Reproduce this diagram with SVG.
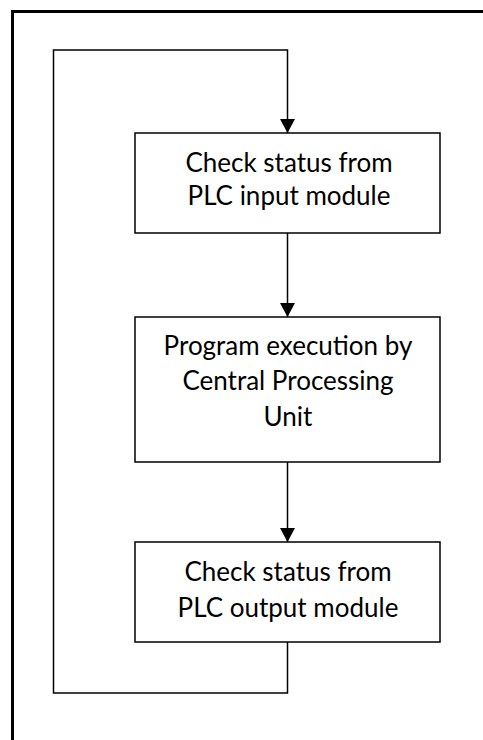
<svg xmlns="http://www.w3.org/2000/svg" width="483" height="740" viewBox="0 0 483 740">
<style>
.box{fill:#fff;stroke:#000;stroke-width:1.5}
.lbl{font-family:Lato,"Liberation Sans",sans-serif;font-size:26px;fill:#000;text-anchor:middle}
.conn{fill:none;stroke:#000;stroke-width:1.5}
</style>
<defs>
<marker id="arr" markerWidth="16" markerHeight="16" viewBox="0 0 16 16" refX="14" refY="8" orient="auto" markerUnits="userSpaceOnUse">
<path d="M0,0.5 L14,8 L0,15.5 Z" fill="#000"/>
</marker>
</defs>
<rect x="12.5" y="11.5" width="480" height="740" fill="none" stroke="#000" stroke-width="3"/>
<g id="connectors">
<path class="conn" d="M287.5,233 L287.5,317" marker-end="url(#arr)"/>
<path class="conn" d="M287.5,462 L287.5,542" marker-end="url(#arr)"/>
<path class="conn" d="M287.5,642 L287.5,693 L53.5,693 L53.5,50 L287.5,50 L287.5,133" marker-end="url(#arr)"/>
</g>
<g id="node1">
<rect class="box" x="135" y="133" width="305" height="100"/>
<text class="lbl" x="289" y="172">Check status from</text>
<text class="lbl" x="289" y="205">PLC input module</text>
</g>
<g id="node2">
<rect class="box" x="135" y="317" width="305" height="145"/>
<text class="lbl" x="288" y="355">Program execution by</text>
<text class="lbl" x="288" y="390">Central Processing</text>
<text class="lbl" x="288" y="426">Unit</text>
</g>
<g id="node3">
<rect class="box" x="135" y="542" width="305" height="100"/>
<text class="lbl" x="288" y="581">Check status from</text>
<text class="lbl" x="288" y="617">PLC output module</text>
</g>
</svg>
